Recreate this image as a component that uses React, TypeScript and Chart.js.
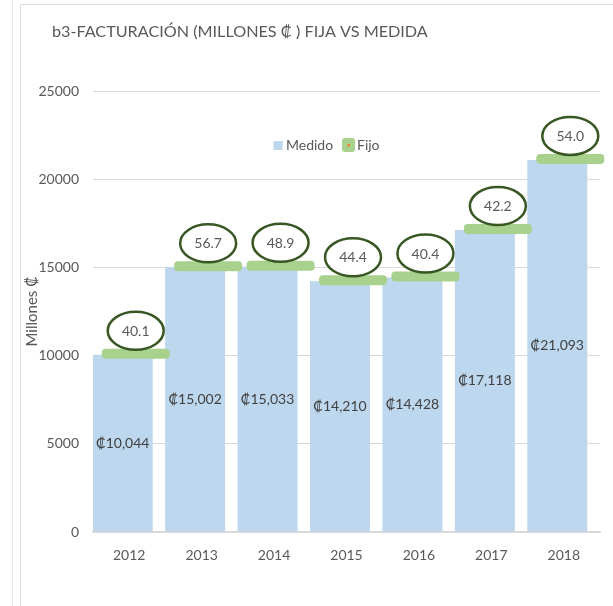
import React, { useEffect, useRef } from "react";
import { Chart, registerables } from "chart.js";

Chart.register(...registerables);

const years = ["2012", "2013", "2014", "2015", "2016", "2017", "2018"];
const medido = [10044, 15002, 15033, 14210, 14428, 17118, 21093];
const fijo = [40.1, 56.7, 48.9, 44.4, 40.4, 42.2, 54.0];
const yTickValues = [0, 5000, 10000, 15000, 20000, 25000];

const FONT = "Lato, 'Noto Sans', 'DejaVu Sans', sans-serif";
const BLUE = "#bdd7ee";
const GREEN = "#a9d18e";
const DARK_GREEN = "#385723";
const TEXT = "#595959";

const overlay = {
  id: "overlay",
  afterDatasetsDraw(chart: any) {
    const ctx = chart.ctx;
    const mMeta = chart.getDatasetMeta(0);
    const fMeta = chart.getDatasetMeta(1);
    ctx.save();
    ctx.textAlign = "center";
    ctx.textBaseline = "middle";
    ctx.font = `14px ${FONT}`;
    ctx.fillStyle = "#404040";
    mMeta.data.forEach((bar: any, i: number) => {
      const p = bar.getProps(["x", "y", "base"], true);
      ctx.fillText("₡" + medido[i].toLocaleString("en-US"), p.x, (p.y + p.base) / 2);
    });
    fMeta.data.forEach((bar: any, i: number) => {
      const p = bar.getProps(["x", "y", "width"], true);
      const cy = p.y - 1;
      ctx.fillStyle = GREEN;
      ctx.beginPath();
      ctx.roundRect(p.x - p.width / 2, cy - 5, p.width, 10, 4);
      ctx.fill();
      const ey = cy - 23;
      ctx.beginPath();
      ctx.ellipse(p.x, ey, 28, 19, 0, 0, Math.PI * 2);
      ctx.fillStyle = "#ffffff";
      ctx.fill();
      ctx.lineWidth = 2.5;
      ctx.strokeStyle = DARK_GREEN;
      ctx.stroke();
      ctx.fillStyle = TEXT;
      ctx.font = `14px ${FONT}`;
      ctx.fillText(fijo[i].toFixed(1), p.x, ey + 0.5);
    });
    ctx.restore();
  },
  afterDraw(chart: any) {
    const ctx = chart.ctx;
    const area = chart.chartArea;
    ctx.save();
    // title
    ctx.fillStyle = TEXT;
    ctx.font = `16.2px ${FONT}`;
    ctx.textAlign = "left";
    ctx.textBaseline = "middle";
    ctx.fillText("b3-FACTURACIÓN (MILLONES ₡ ) FIJA VS MEDIDA", 52, 32);
    // y axis title
    ctx.save();
    ctx.translate(32.5, (area.top + area.bottom) / 2);
    ctx.rotate(-Math.PI / 2);
    ctx.textAlign = "center";
    ctx.font = `15px ${FONT}`;
    ctx.fillText("Millones ₡", 0, 0);
    ctx.restore();
    // legend
    ctx.font = `14px ${FONT}`;
    ctx.textAlign = "left";
    ctx.fillStyle = BLUE;
    ctx.fillRect(273.5, 141, 9, 9);
    ctx.fillStyle = TEXT;
    ctx.fillText("Medido", 286, 145.5);
    ctx.fillStyle = GREEN;
    ctx.beginPath();
    ctx.roundRect(342, 138, 13, 14, 3);
    ctx.fill();
    ctx.fillStyle = "#ed7d31";
    ctx.fillRect(347.5, 144, 2.5, 2.5);
    ctx.fillStyle = TEXT;
    ctx.fillText("Fijo", 357, 145.5);
    ctx.restore();
  },
};

function ChartView() {
  const ref = useRef<HTMLCanvasElement | null>(null);
  useEffect(() => {
    if (!ref.current) return;
    const chart = new Chart(ref.current, {
      type: "bar",
      data: {
        labels: years,
        datasets: [
          {
            label: "Medido",
            data: medido,
            backgroundColor: BLUE,
            categoryPercentage: 0.359,
            barPercentage: 4.615,
          },
          {
            label: "Fijo",
            data: medido.map((m) => [m, m]) as any,
            backgroundColor: "rgba(0,0,0,0)",
            categoryPercentage: 0.359,
            barPercentage: 5.23,
          },
        ],
      },
      options: {
        responsive: false,
        animation: false,
        events: [],
        layout: { padding: { top: 91, right: 13, bottom: 0, left: 0 } },
        plugins: {
          legend: { display: false },
          title: { display: false },
          tooltip: { enabled: false },
        },
        scales: {
          x: {
            grid: { display: false, drawTicks: false },
            border: { display: true, color: "#d9d9d9", width: 2 },
            ticks: { color: TEXT, font: { family: FONT, size: 14 }, padding: 15 },
            afterFit(scale: any) {
              scale.height = 74;
            },
          },
          y: {
            min: 0,
            max: 25000,
            afterBuildTicks(scale: any) {
              scale.ticks = yTickValues.map((v) => ({ value: v }));
            },
            grid: { color: "#d9d9d9", lineWidth: 1, drawTicks: false },
            border: { display: false },
            ticks: {
              color: TEXT,
              font: { family: FONT, size: 14 },
              padding: 14,
              callback: (v: any) => String(v),
            },
            afterFit(scale: any) {
              scale.width = 93;
            },
          },
        },
      },
      plugins: [overlay],
    });
    return () => chart.destroy();
  }, []);
  return (
    <canvas
      ref={ref}
      width={613}
      height={606}
      style={{ position: "absolute", left: 0, top: 0, width: 613, height: 606 }}
    />
  );
}

export default function App() {
  useEffect(() => {
    document.body.style.margin = "0";
  }, []);
  return (
    <div style={{ position: "relative", width: 613, height: 606, overflow: "hidden", background: "#fff" }}>
      <div style={{ position: "absolute", left: 12, top: 0, width: 1, height: 606, background: "#ebebeb" }} />
      <div
        style={{
          position: "absolute",
          left: 20,
          top: 4,
          width: 700,
          height: 700,
          border: "1px solid #dedede",
          boxSizing: "border-box",
        }}
      />
      <ChartView />
    </div>
  );
}
